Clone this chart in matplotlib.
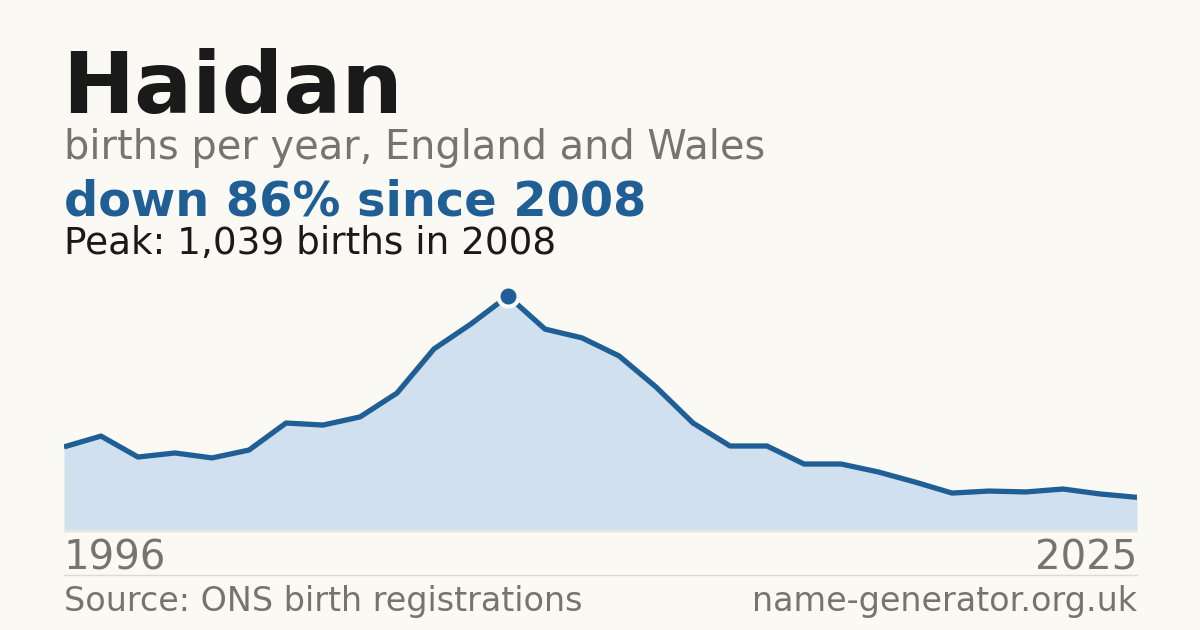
import matplotlib
matplotlib.use("Agg")
import matplotlib.pyplot as plt

years = list(range(1996, 2026))
births = [369, 417, 324, 342, 320, 355, 475, 466, 502, 608, 804, 915, 1039,
          892, 853, 773, 635, 475, 373, 373, 293, 293, 258, 213, 164, 173,
          169, 182, 160, 145]
peak_year = 2008
peak_value = 1039

BG = "#faf9f4"
BLUE = "#1f5f96"
FILL = "#d0e0ef"
GRAY = "#78746d"
DARK = "#1a1a1a"

W, H = 1200, 630
fig = plt.figure(figsize=(12, 6.3), dpi=100, facecolor=BG)

def fx(px):
    return px / W

def fy(py):
    return 1 - py / H

ax = fig.add_axes([fx(64), fy(530), fx(1137) - fx(64), fy(296) - fy(530)])
ax.set_facecolor(BG)
ax.patch.set_alpha(0)
ax.fill_between(years, births, 0, color=FILL, linewidth=0)
ax.plot(years, births, color=BLUE, linewidth=3.8, solid_joinstyle="round", solid_capstyle="butt")
ax.plot([peak_year], [peak_value], marker="o", markersize=14.5, color=BLUE,
        markeredgecolor=BG, markeredgewidth=3, clip_on=False, zorder=5)
ax.set_xlim(years[0], years[-1])
ax.set_ylim(0, peak_value)
ax.axis("off")

# baseline
fig.add_artist(plt.Line2D([fx(64), fx(1137)], [fy(530.5), fy(530.5)], color="#e6dfd3", linewidth=1))
# separator
fig.add_artist(plt.Line2D([fx(64), fx(1137)], [fy(575), fy(575)], color="#dcd9d2", linewidth=1))

fig.text(fx(62), fy(113), "Haidan", fontsize=62, fontweight="bold", color=DARK, va="baseline", ha="left")
fig.text(fx(64), fy(159), "births per year, England and Wales", fontsize=28.7, color=GRAY, va="baseline", ha="left")
fig.text(fx(64), fy(215), "down 86% since 2008", fontsize=34.5, fontweight="bold", color=BLUE, va="baseline", ha="left")
fig.text(fx(64), fy(254), "Peak: 1,039 births in 2008", fontsize=26.9, color=DARK, va="baseline", ha="left")

fig.text(fx(64), fy(570), str(years[0]), fontsize=29, color=GRAY, va="baseline", ha="left")
fig.text(fx(1137), fy(570), str(years[-1]), fontsize=29, color=GRAY, va="baseline", ha="right")

fig.text(fx(64), fy(611), "Source: ONS birth registrations", fontsize=24, color=GRAY, va="baseline", ha="left")
fig.text(fx(1137), fy(611), "name-generator.org.uk", fontsize=24, color=GRAY, va="baseline", ha="right")

fig.savefig("out.png", dpi=100, facecolor=BG)
